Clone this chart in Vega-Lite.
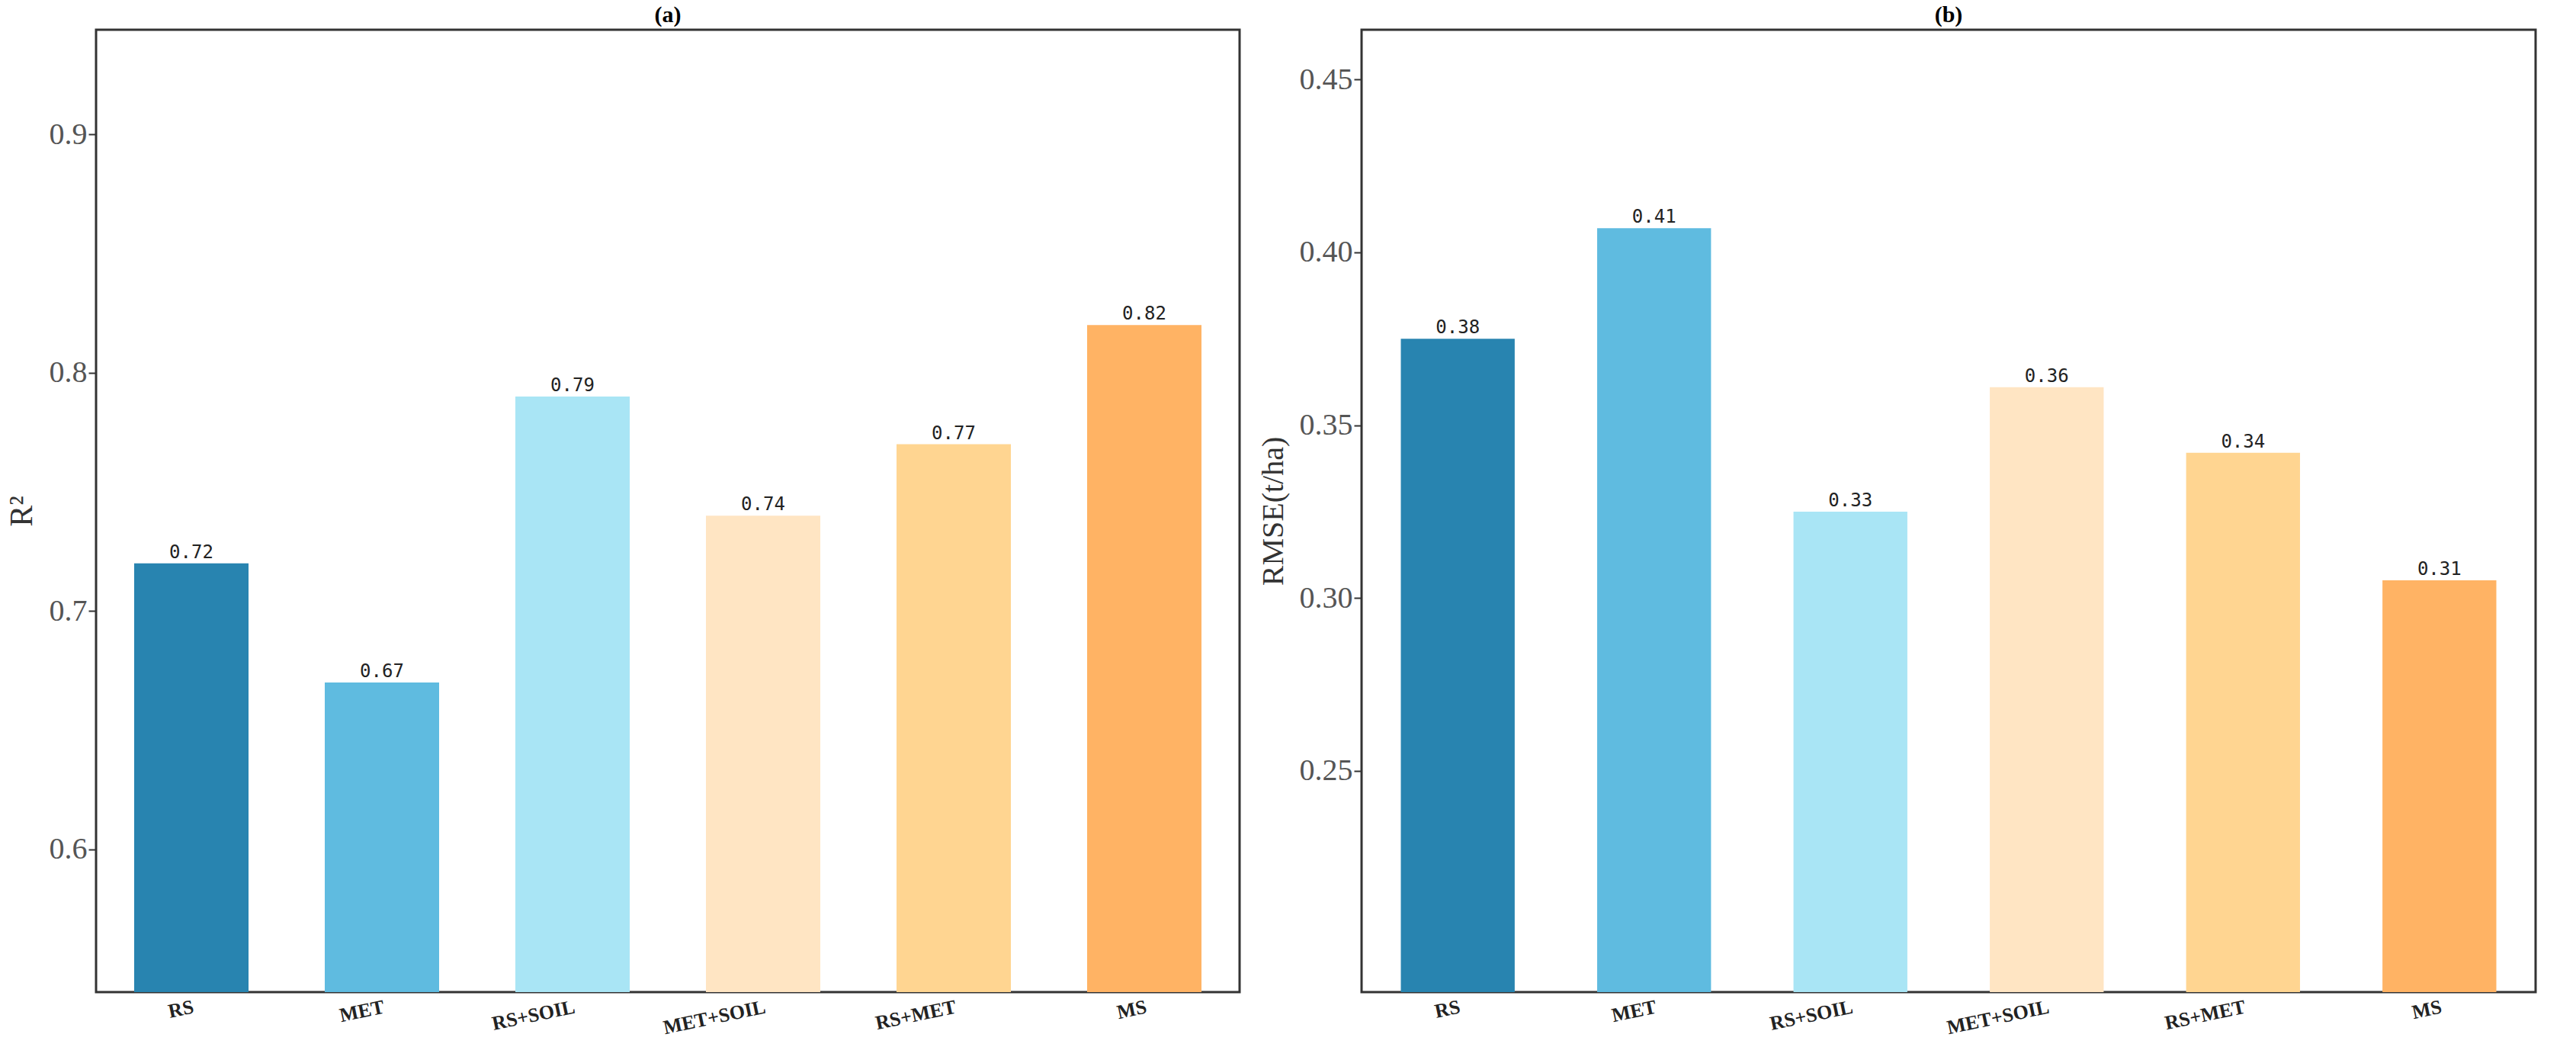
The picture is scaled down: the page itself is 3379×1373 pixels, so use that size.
{
"$schema":"https://vega.github.io/schema/vega-lite/v6.json",
"background":"white",
"padding":{"left":5,"top":3,"right":10,"bottom":3},
"datasets":{"a":[{"m":"RS","v":0.72},{"m":"MET","v":0.67},{"m":"RS+SOIL","v":0.79},{"m":"MET+SOIL","v":0.74},{"m":"RS+MET","v":0.77},{"m":"MS","v":0.82}],
"b":[{"m":"RS","v":0.375},{"m":"MET","v":0.407},{"m":"RS+SOIL","v":0.325},{"m":"MET+SOIL","v":0.361},{"m":"RS+MET","v":0.342},{"m":"MS","v":0.3051}]},
"config":{"font":"Liberation Serif","view":{"stroke":"#333","strokeWidth":3},
"axis":{"grid":false,"domain":false,"tickColor":"#333","tickWidth":2,"tickSize":10,"labelColor":"#555","titleColor":"#333","titleFontWeight":"normal"},
"title":{"fontSize":30,"fontWeight":"bold","font":"Liberation Serif","offset":4}},
"spacing":20,
"hconcat":[
{"title":"(a)","width":1500,"height":1262,"data":{"name":"a"},
"encoding":{"x":{"field":"m","type":"nominal","sort":null,"scale":{"paddingInner":0.4,"paddingOuter":0.2},"axis":{"title":null,"labelAngle":-12,"labelFontSize":26,"labelFontWeight":"bold","labelColor":"#222","ticks":false,"labelPadding":6}},
"y":{"field":"v","type":"quantitative","scale":{"domain":[0.54,0.944],"nice":false,"zero":false},"axis":{"values":[0.6,0.7,0.8,0.9],"format":".1f","labelFontSize":40,"title":"R²","titleFontSize":42,"titlePadding":14}}},
"layer":[
{"mark":{"type":"bar","clip":true},"encoding":{"color":{"field":"m","type":"nominal","sort":null,"legend":null,"scale":{"range":["#2884B0","#5FBBE0","#A9E5F5","#FFE5C3","#FFD591","#FFB364"]}}}},
{"mark":{"type":"text","dy":-14,"fontSize":24,"font":"DejaVu Sans Mono","color":"#222"},"encoding":{"text":{"field":"v","format":".2f"}}}]},
{"title":"(b)","width":1540,"height":1262,"data":{"name":"b"},
"encoding":{"x":{"field":"m","type":"nominal","sort":null,"scale":{"paddingInner":0.42,"paddingOuter":0.2},"axis":{"title":null,"labelAngle":-12,"labelFontSize":26,"labelFontWeight":"bold","labelColor":"#222","ticks":false,"labelPadding":6}},
"y":{"field":"v","type":"quantitative","scale":{"domain":[0.186,0.4644],"nice":false,"zero":false},"axis":{"values":[0.25,0.3,0.35,0.4,0.45],"format":".2f","labelFontSize":40,"title":"RMSE(t/ha)","titleFontSize":40,"titlePadding":14}}},
"layer":[
{"mark":{"type":"bar","clip":true},"encoding":{"color":{"field":"m","type":"nominal","sort":null,"legend":null,"scale":{"range":["#2884B0","#5FBBE0","#A9E5F5","#FFE5C3","#FFD591","#FFB364"]}}}},
{"mark":{"type":"text","dy":-14,"fontSize":24,"font":"DejaVu Sans Mono","color":"#222"},"encoding":{"text":{"field":"v","format":".2f"}}}]}
]}
